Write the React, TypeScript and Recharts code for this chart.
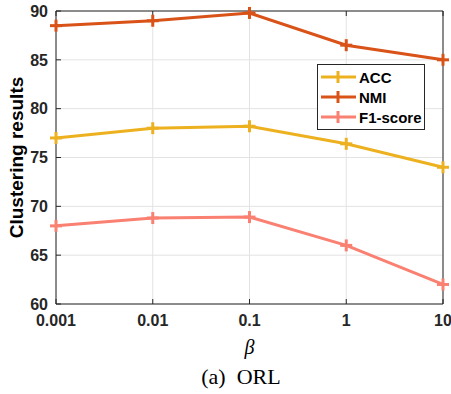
import React from 'react';
import {
  LineChart,
  Line,
  XAxis,
  YAxis,
  CartesianGrid,
  Legend,
} from 'recharts';

// ---------------------------------------------------------------------------
// Data
// ---------------------------------------------------------------------------

const betaLabels = ['0.001', '0.01', '0.1', '1', '10'];
const accValues = [77.0, 78.0, 78.2, 76.4, 74.0];
const nmiValues = [88.5, 89.0, 89.8, 86.5, 85.0];
const f1Values = [68.0, 68.8, 68.9, 66.0, 62.0];
const yTicks = [60, 65, 70, 75, 80, 85, 90];

const seriesList = [
  { key: 'ACC', color: '#EDB120' },
  { key: 'NMI', color: '#D95319' },
  { key: 'F1-score', color: '#FA8072' },
];

const chartData = betaLabels.map((beta, i) => ({
  beta,
  ACC: accValues[i],
  NMI: nmiValues[i],
  'F1-score': f1Values[i],
}));

const AXIS_COLOR = '#262626';
const SANS = '"Liberation Sans", Arial, Helvetica, sans-serif';
const SERIF = '"Liberation Serif", "Times New Roman", serif';

// plus-shaped marker, like MATLAB's '+'
const plusDot = (color: string) => (props: any) => {
  const { cx, cy, index } = props;
  if (cx == null || cy == null) return <g key={`d${index}`} />;
  const s = 6;
  return (
    <g key={`d${index}`}>
      <line x1={cx - s} y1={cy} x2={cx + s} y2={cy} stroke={color} strokeWidth={3} />
      <line x1={cx} y1={cy - s} x2={cx} y2={cy + s} stroke={color} strokeWidth={3} />
    </g>
  );
};

// legend box in the upper right of the plot
const LegendBox = () => (
  <div
    style={{
      border: '1px solid #262626',
      background: '#fff',
      padding: '2px 0',
      boxSizing: 'border-box',
      width: 108,
    }}
  >
    {seriesList.map((s) => (
      <div key={s.key} style={{ display: 'flex', alignItems: 'center', height: 20 }}>
        <svg width={40} height={20} style={{ display: 'block' }}>
          <line x1={3} y1={10} x2={38} y2={10} stroke={s.color} strokeWidth={3} />
          <line x1={20} y1={4} x2={20} y2={16} stroke={s.color} strokeWidth={3} />
        </svg>
        <span
          style={{
            fontFamily: SANS,
            fontWeight: 'bold',
            fontSize: 15,
            color: '#000',
            marginLeft: 1,
          }}
        >
          {s.key}
        </span>
      </div>
    ))}
  </div>
);

export default function App() {
  const tickStyle = { fontFamily: SANS, fontWeight: 'bold', fontSize: 16, fill: AXIS_COLOR };

  return (
    <div style={{ position: 'absolute', left: 0, top: 0, width: 451, height: 394, background: '#fff' }}>
      <LineChart
        width={451}
        height={394}
        data={chartData}
        margin={{ top: 0, right: 0, bottom: 0, left: 0 }}
      >
        <CartesianGrid stroke="#e3e3e3" strokeWidth={1} xAxisId="x" yAxisId="y" />

        <XAxis
          xAxisId="x"
          dataKey="beta"
          type="category"
          padding={{ left: 0, right: 0 }}
          height={90}
          stroke={AXIS_COLOR}
          tickSize={-5}
          tickMargin={16}
          tick={tickStyle}
          interval={0}
          label={{
            value: 'β',
            position: 'insideTop',
            offset: 36,
            style: { fontFamily: SERIF, fontStyle: 'italic', fontSize: 20, fill: '#000' },
          }}
        />
        <XAxis
          xAxisId="top"
          dataKey="beta"
          type="category"
          orientation="top"
          padding={{ left: 0, right: 0 }}
          height={11}
          stroke={AXIS_COLOR}
          tickSize={-5}
          tickFormatter={() => ''}
          interval={0}
        />
        <YAxis
          yAxisId="y"
          type="number"
          domain={[60, 90]}
          ticks={yTicks}
          width={56}
          stroke={AXIS_COLOR}
          tickSize={-5}
          tickMargin={13}
          tick={tickStyle}
          label={{
            value: 'Clustering results',
            angle: -90,
            position: 'insideLeft',
            offset: 16,
            style: { fontFamily: SANS, fontWeight: 'bold', fontSize: 19, fill: '#000', textAnchor: 'middle' },
          }}
        />
        <YAxis
          yAxisId="right"
          orientation="right"
          type="number"
          domain={[60, 90]}
          ticks={yTicks}
          width={8}
          stroke={AXIS_COLOR}
          tickSize={-5}
          tickFormatter={() => ''}
        />

        <Legend
          layout="vertical"
          align="center"
          verticalAlign="middle"
          content={() => <LegendBox />}
          wrapperStyle={{ left: 317, top: 64, width: 108 }}
        />

        {seriesList.map((s) => (
          <Line
            key={s.key}
            xAxisId="x"
            yAxisId="y"
            type="linear"
            dataKey={s.key}
            stroke={s.color}
            strokeWidth={3}
            dot={plusDot(s.color)}
            activeDot={false}
            isAnimationActive={false}
          />
        ))}
      </LineChart>

      <div
        style={{
          position: 'absolute',
          left: 0,
          width: 482,
          top: 364,
          textAlign: 'center',
          fontFamily: SERIF,
          fontSize: 22,
          color: '#000',
          whiteSpace: 'pre',
        }}
      >
        {'(a)  ORL'}
      </div>
    </div>
  );
}
